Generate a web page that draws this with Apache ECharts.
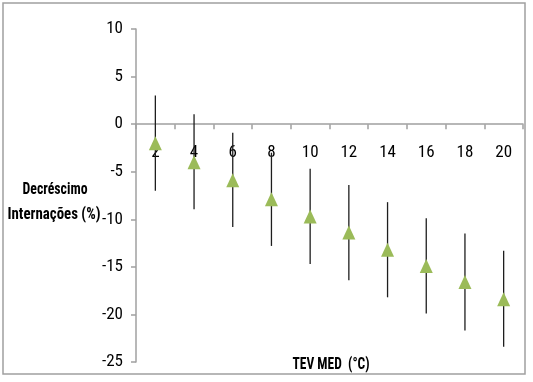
<!DOCTYPE html>
<html>
<head>
<meta charset="utf-8">
<script src="https://cdn.jsdelivr.net/npm/echarts@6/dist/echarts.min.js"></script>
<style>
html,body{margin:0;padding:0;background:#fff;}
#chart{width:533px;height:382px;}
</style>
</head>
<body>
<div id="chart"></div>
<script>
// Data
const categories = ['2', '4', '6', '8', '10', '12', '14', '16', '18', '20'];
const meanValues = [-2.0, -4.0, -5.9, -7.9, -9.7, -11.4, -13.2, -14.9, -16.6, -18.4];
const lowerValues = [-7.0, -8.95, -10.8, -12.8, -14.7, -16.4, -18.2, -19.9, -21.7, -23.4];
const upperValues = [3.0, 1.05, -0.9, -3.0, -4.7, -6.4, -8.2, -9.9, -11.5, -13.3];
const yTicks = { min: -25, max: 10, interval: 5 };
const xTitle = 'TEV MED  (°C)';
const yTitleLines = ['Decréscimo', 'Internações (%)'];

const FONT = "'Liberation Sans Narrow', 'Roboto Condensed', 'DejaVu Sans Condensed', sans-serif";

// layout
const GRID = { left: 136, right: 10, top: 29, bottom: 20 };
const CH = 382;
const plotH = CH - GRID.top - GRID.bottom;
// category axis crosses the value axis at 0
const zeroOffset = -plotH * (0 - yTicks.min) / (yTicks.max - yTicks.min);

// measure text to compress bold titles horizontally to the reference widths
const mctx = document.createElement('canvas').getContext('2d');
function fitScale(text, font, target) {
  mctx.font = font;
  const w = mctx.measureText(text).width;
  return w > 0 ? target / w : 1;
}
const TITLE_FONT = "bold 17px " + FONT;

function titleText(text, cx, cy, targetW) {
  const s = fitScale(text, TITLE_FONT, targetW);
  return {
    type: 'text',
    x: cx, y: cy,
    scaleX: s,
    style: {
      text: text,
      font: TITLE_FONT,
      fill: '#000',
      align: 'center',
      verticalAlign: 'middle'
    },
    z: 10, silent: true
  };
}

const errorData = categories.map((c, i) => [i, lowerValues[i], upperValues[i]]);

const chart = echarts.init(document.getElementById('chart'), null, { renderer: 'canvas' });
chart.setOption({
  animation: false,
  backgroundColor: '#ffffff',
  grid: { left: GRID.left, right: GRID.right, top: GRID.top, bottom: GRID.bottom, containLabel: false, outerBoundsMode: 'none' },
  graphic: [
    {
      type: 'rect',
      shape: { x: 3, y: 3, width: 522, height: 371 },
      style: { fill: 'none', stroke: '#a0a0a0', lineWidth: 1.5 },
      z: 0, silent: true
    },
    titleText(yTitleLines[0], 55, 190, 65),
    titleText(yTitleLines[1], 54, 215, 93),
    titleText(xTitle, 331, 365, 77)
  ],
  xAxis: {
    type: 'category',
    data: categories,
    boundaryGap: true,
    position: 'bottom',
    offset: zeroOffset,
    axisLine: { onZero: false, lineStyle: { color: '#a0a0a0', width: 1.5 } },
    axisTick: { show: true, length: 5, lineStyle: { color: '#a0a0a0', width: 1.5 } },
    axisLabel: { margin: 20, fontFamily: FONT, fontSize: 17, color: '#000' },
    splitLine: { show: false }
  },
  yAxis: {
    type: 'value',
    min: yTicks.min,
    max: yTicks.max,
    interval: yTicks.interval,
    axisLine: { show: true, onZero: false, lineStyle: { color: '#a0a0a0', width: 1.5 } },
    axisTick: { show: true, length: 5, lineStyle: { color: '#a0a0a0', width: 1.5 } },
    axisLabel: { margin: 13, fontFamily: FONT, fontSize: 17, color: '#000' },
    splitLine: { show: false }
  },
  series: [
    {
      type: 'custom',
      name: 'IC',
      data: errorData,
      z: 2,
      renderItem: function (params, api) {
        const x = api.value(0);
        const p1 = api.coord([x, api.value(1)]);
        const p2 = api.coord([x, api.value(2)]);
        return {
          type: 'line',
          shape: { x1: p1[0], y1: p1[1], x2: p2[0], y2: p2[1] },
          style: { stroke: '#1e1e1e', lineWidth: 1.3 }
        };
      },
      encode: { x: 0, y: [1, 2] }
    },
    {
      type: 'scatter',
      name: 'Decréscimo',
      data: meanValues,
      symbol: 'triangle',
      symbolSize: [13, 14],
      itemStyle: { color: '#9bbb59', opacity: 1 },
      z: 3
    }
  ]
});
</script>
</body>
</html>
